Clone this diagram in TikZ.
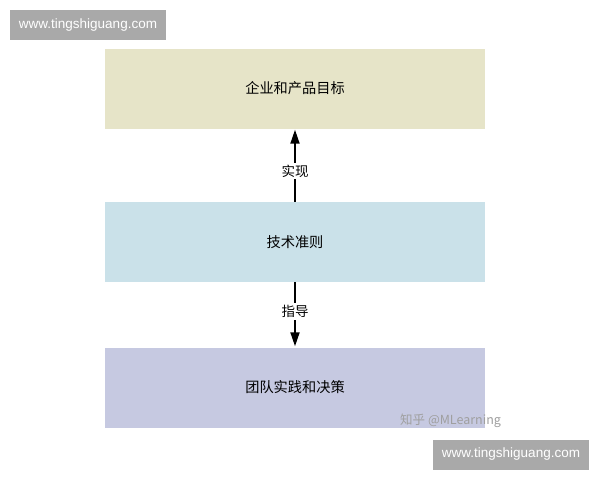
\documentclass[tikz,border=0pt]{standalone}
\usepackage{fontspec}
\newfontfamily\cjk{Noto Sans CJK SC}
\setsansfont{Liberation Sans}
\usetikzlibrary{arrows.meta}
\definecolor{boxA}{HTML}{E6E4C8}
\definecolor{boxB}{HTML}{CAE1E9}
\definecolor{boxC}{HTML}{C6C9E1}
\definecolor{wmgray}{HTML}{A9A9A9}
\tikzset{
  layer/.style={draw=none, minimum width=380pt, minimum height=80pt, inner sep=0pt, font=\cjk\fontsize{14.2}{16}\selectfont},
  flow/.style={line width=1.8pt, -{Triangle[length=14pt,width=9pt]}, shorten >=1pt},
  flowlabel/.style={fill=white, inner sep=2pt, font=\cjk\fontsize{13.5}{15}\selectfont},
  wmbox/.style={fill=wmgray, text=white, minimum width=156pt, minimum height=30pt, inner sep=0pt, font=\sffamily\fontsize{13.5}{15}\selectfont},
}
\begin{document}
\begin{tikzpicture}[x=1pt,y=-1pt]
\useasboundingbox (0,0) rectangle (600,480);
\fill[white] (0,0) rectangle (600,480);
\node[layer, fill=boxA] (goal) at (295,88.5) {企业和产品目标};
\node[layer, fill=boxB] (tech) at (295,242) {技术准则};
\node[layer, fill=boxC] (team) at (295,387.5) {团队实践和决策};
\draw[flow] (tech.north) -- (goal.south) node[flowlabel, pos=0.42] (l1) {实现};
\draw[flow] (tech.south) -- (team.south |- team.north) node[flowlabel, pos=0.45] (l2) {指导};
\node[wmbox] (wm1) at (88,25) {www.tingshiguang.com};
\node[wmbox] (wm2) at (511,454.5) {www.tingshiguang.com};
\node[text=gray!75, font=\cjk\fontsize{12.5}{14}\selectfont, anchor=west, inner sep=0pt] (zh) at (400,421) {知乎 @MLearning};
\end{tikzpicture}
\end{document}
